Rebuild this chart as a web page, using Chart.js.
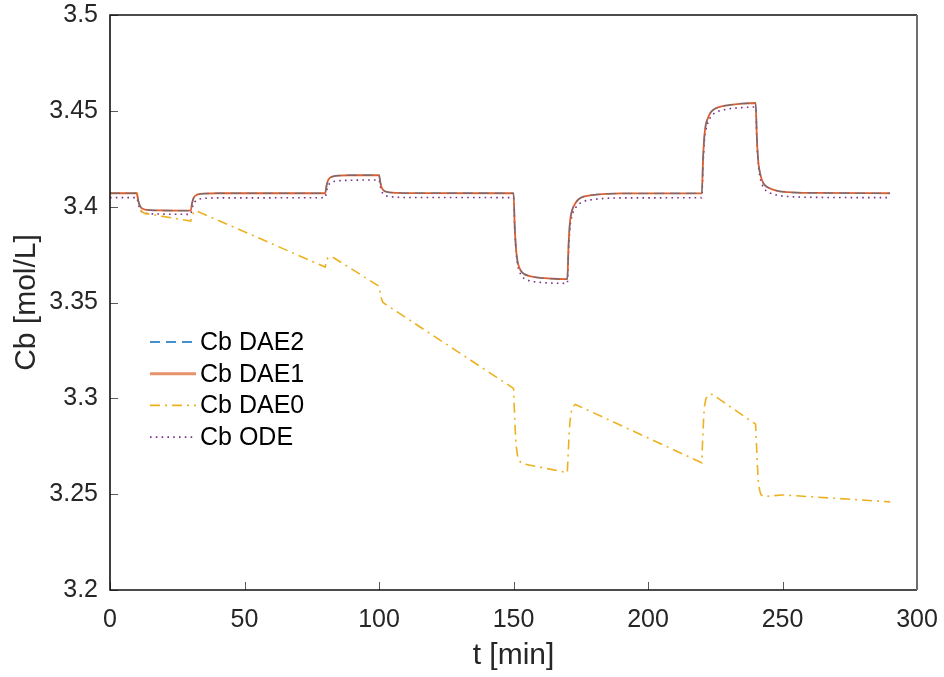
<!DOCTYPE html>
<html>
<head>
<meta charset="utf-8">
<script src="https://cdn.jsdelivr.net/npm/chart.js@4.4.0/dist/chart.umd.min.js"></script>
<style>
  html, body { margin: 0; padding: 0; background: #fff; }
  #cbContainer { width: 944px; height: 677px; }
</style>
</head>
<body>
<div id="cbContainer"><canvas id="cbChart"></canvas></div>
<script>
// time grid shared by DAE2, DAE1 and ODE runs (min), one line per setpoint step
const tStep = [
  0, 10,
  10.5, 11, 11.5, 12, 13, 15, 20, 30,
  30.5, 31, 31.5, 32, 33, 35, 40, 80,
  80.5, 81, 81.5, 82, 83, 85, 90, 100,
  100.5, 101, 101.5, 102, 103, 105, 110, 150,
  150.5, 151, 151.5, 152, 153, 154, 156, 160, 165, 170,
  170.5, 171, 171.5, 172, 173, 174, 176, 180, 185, 190, 220,
  220.5, 221, 221.5, 222, 223, 224, 226, 230, 235, 240,
  240.5, 241, 241.5, 242, 243, 245, 248, 252, 260, 290
]

const cbDAE2 = [
  3.4070, 3.4070,
  3.4032, 3.4008, 3.3996, 3.3990, 3.3985, 3.3982, 3.3980, 3.3979,
  3.4018, 3.4042, 3.4054, 3.4060, 3.4065, 3.4068, 3.4070, 3.4070,
  3.4109, 3.4135, 3.4147, 3.4153, 3.4158, 3.4162, 3.4164, 3.4165,
  3.4126, 3.4100, 3.4088, 3.4082, 3.4077, 3.4073, 3.4071, 3.4070,
  3.3880, 3.3770, 3.3715, 3.3688, 3.3660, 3.3648, 3.3638, 3.3628, 3.3624, 3.3622,
  3.3810, 3.3920, 3.3965, 3.3990, 3.4018, 3.4036, 3.4052, 3.4062, 3.4067, 3.4069, 3.4070,
  3.4260, 3.4375, 3.4428, 3.4452, 3.4485, 3.4502, 3.4518, 3.4530, 3.4538, 3.4541,
  3.4350, 3.4235, 3.4185, 3.4155, 3.4120, 3.4097, 3.4083, 3.4076, 3.4072, 3.4070
]

const cbDAE1 = [
  3.4070, 3.4070,
  3.4032, 3.4008, 3.3996, 3.3990, 3.3985, 3.3982, 3.3980, 3.3979,
  3.4018, 3.4042, 3.4054, 3.4060, 3.4065, 3.4068, 3.4070, 3.4070,
  3.4109, 3.4135, 3.4147, 3.4153, 3.4158, 3.4162, 3.4164, 3.4165,
  3.4126, 3.4100, 3.4088, 3.4082, 3.4077, 3.4073, 3.4071, 3.4070,
  3.3880, 3.3770, 3.3715, 3.3688, 3.3660, 3.3648, 3.3638, 3.3628, 3.3624, 3.3622,
  3.3810, 3.3920, 3.3965, 3.3990, 3.4018, 3.4036, 3.4052, 3.4062, 3.4067, 3.4069, 3.4070,
  3.4260, 3.4375, 3.4428, 3.4452, 3.4485, 3.4502, 3.4518, 3.4530, 3.4538, 3.4541,
  3.4350, 3.4235, 3.4185, 3.4155, 3.4120, 3.4097, 3.4083, 3.4076, 3.4072, 3.4070
]

const cbODE = [
  3.4047, 3.4047,
  3.4015, 3.3992, 3.3978, 3.3971, 3.3966, 3.3963, 3.3961, 3.3960,
  3.3990, 3.4013, 3.4025, 3.4032, 3.4039, 3.4043, 3.4046, 3.4047,
  3.4080, 3.4105, 3.4118, 3.4125, 3.4131, 3.4135, 3.4138, 3.4139,
  3.4105, 3.4080, 3.4068, 3.4061, 3.4055, 3.4051, 3.4048, 3.4047,
  3.3870, 3.3760, 3.3700, 3.3670, 3.3640, 3.3625, 3.3613, 3.3605, 3.3601, 3.3600,
  3.3780, 3.3890, 3.3940, 3.3965, 3.3993, 3.4010, 3.4027, 3.4038, 3.4044, 3.4046, 3.4047,
  3.4230, 3.4345, 3.4400, 3.4428, 3.4462, 3.4480, 3.4497, 3.4510, 3.4517, 3.4520,
  3.4335, 3.4220, 3.4165, 3.4133, 3.4098, 3.4074, 3.4060, 3.4053, 3.4049, 3.4047
]

// DAE0 drifts, so it gets its own time grid
const tDAE0 = [
  0, 10,
  10.5, 11, 11.5, 12, 13, 30,
  30.4, 31, 31.5, 32, 80,
  80.5, 81, 82, 83, 100,
  100.5, 101, 101.5, 102.5, 150,
  150.3, 150.7, 151, 151.5, 152, 153, 170,
  170.3, 170.7, 171, 171.5, 172, 173, 220,
  220.3, 220.7, 221, 221.5, 222, 223, 224, 240,
  240.3, 240.7, 241, 241.5, 242, 243, 245, 250, 290
]

const cbDAE0 = [
  3.4070, 3.4070,
  3.4030, 3.4005, 3.3985, 3.3972, 3.3965, 3.3925,
  3.3945, 3.3968, 3.3977, 3.3979, 3.3685,
  3.3718, 3.3733, 3.3740, 3.3735, 3.3585,
  3.3545, 3.3515, 3.3500, 3.3490, 3.3052,
  3.2950, 3.2820, 3.2750, 3.2700, 3.2678, 3.2660, 3.2612,
  3.2700, 3.2820, 3.2880, 3.2930, 3.2955, 3.2968, 3.2664,
  3.2780, 3.2900, 3.2960, 3.2995, 3.3012, 3.3022, 3.3020, 3.2865,
  3.2770, 3.2640, 3.2570, 3.2520, 3.2497, 3.2487, 3.2490, 3.2496, 3.2460
]

const seriesLabels = ['Cb DAE2', 'Cb DAE1', 'Cb DAE0', 'Cb ODE']

const xTickStep = 50
const yTickStep = 0.05

const inkColor = '#262626'
const fontFamily = "'Liberation Sans', Arial, Helvetica, sans-serif"

function toPoints(times, values) {
  return times.map((t, i) => ({x: t, y: values[i]}))
}

// pin the axes box: fixed scale size and no extra label overhang padding
function pinScale(scale, size) {
  if (scale.isHorizontal()) scale.height = size
  else scale.width = size
  scale.paddingTop = 0
  scale.paddingBottom = 0
  scale.paddingLeft = 0
  scale.paddingRight = 0
}

// axis frame plus MATLAB style inward tick marks
const frameAndTicks = {
  id: 'frameAndTicks',
  afterDraw(chart) {
    const {ctx, chartArea: {left, right, top, bottom}, scales: {x, y}} = chart
    ctx.save()
    ctx.lineWidth = 1
    ctx.strokeStyle = '#5a5a5a'
    ctx.beginPath()
    x.ticks.forEach(tick => {
      const px = Math.round(x.getPixelForValue(tick.value)) + 0.5
      ctx.moveTo(px, bottom)
      ctx.lineTo(px, bottom - 8)
    })
    y.ticks.forEach(tick => {
      const py = Math.round(y.getPixelForValue(tick.value)) + 0.5
      ctx.moveTo(left, py)
      ctx.lineTo(left + 8, py)
    })
    ctx.stroke()

    ctx.lineWidth = 1.6
    ctx.strokeStyle = '#111'
    ctx.beginPath()
    ctx.moveTo(right, top)
    ctx.lineTo(left, top)
    ctx.lineTo(left, bottom)
    ctx.lineTo(right, bottom)
    ctx.stroke()

    ctx.lineWidth = 2
    ctx.strokeStyle = '#6e6e6e'
    ctx.beginPath()
    ctx.moveTo(right, top)
    ctx.lineTo(right, bottom)
    ctx.stroke()
    ctx.restore()
  }
}

// legend without a box, sitting inside the axes
const insideLegend = {
  id: 'insideLegend',
  afterDatasetsDraw(chart) {
    const {ctx} = chart
    const x0 = 150
    const y0 = 342
    const rowGap = 31.7
    ctx.save()
    ctx.font = `25px ${fontFamily}`
    ctx.textBaseline = 'middle'
    ctx.fillStyle = '#000'
    chart.data.datasets.forEach((ds, i) => {
      const yy = y0 + i * rowGap
      ctx.beginPath()
      ctx.setLineDash(ds.borderDash || [])
      ctx.strokeStyle = ds.legendColor || ds.borderColor
      ctx.lineWidth = ds.legendWidth || ds.borderWidth
      ctx.moveTo(x0, yy)
      ctx.lineTo(x0 + 46, yy)
      ctx.stroke()
      ctx.setLineDash([])
      ctx.fillText(ds.label, x0 + 50, yy + 1)
    })
    ctx.restore()
  }
}

const ctx = document.getElementById('cbChart').getContext('2d')

new Chart(ctx, {
  type: 'line',
  data: {
    datasets: [
      {
        label: seriesLabels[0],
        data: toPoints(tStep, cbDAE2),
        borderColor: 'rgba(0, 114, 189, 0.42)',
        legendColor: '#0072BD',
        borderWidth: 1.6,
        borderDash: [10, 6],
        cubicInterpolationMode: 'monotone',
      },
      {
        label: seriesLabels[1],
        data: toPoints(tStep, cbDAE1),
        borderColor: '#DE6030',
        legendColor: '#E8926C',
        legendWidth: 3,
        borderWidth: 1.8,
        borderDash: [],
        cubicInterpolationMode: 'monotone',
      },
      {
        label: seriesLabels[2],
        data: toPoints(tDAE0, cbDAE0),
        borderColor: '#EDB120',
        borderWidth: 1.6,
        borderDash: [10, 5, 2, 5],
        tension: 0,
      },
      {
        label: seriesLabels[3],
        data: toPoints(tStep, cbODE),
        borderColor: '#7E2F8E',
        borderWidth: 1.6,
        borderDash: [1.6, 4.2],
        cubicInterpolationMode: 'monotone',
      },
    ],
  },
  options: {
    responsive: true,
    maintainAspectRatio: false,
    animation: false,
    elements: {
      point: {radius: 0},
      line: {fill: false},
    },
    layout: {
      padding: {left: 0, right: 27, top: 15, bottom: 0},
    },
    plugins: {
      legend: {display: false},
      tooltip: {enabled: false},
    },
    scales: {
      x: {
        type: 'linear',
        min: 0,
        max: 300,
        afterFit: scale => pinScale(scale, 87),
        grid: {display: false, drawTicks: false},
        border: {display: false},
        ticks: {
          stepSize: xTickStep,
          padding: 15,
          color: inkColor,
          font: {family: fontFamily, size: 25},
          maxRotation: 0,
        },
        title: {
          display: true,
          text: 't [min]',
          color: inkColor,
          font: {family: fontFamily, size: 30},
          padding: {top: 0, bottom: 3},
        },
      },
      y: {
        min: 3.2,
        max: 3.5,
        afterFit: scale => pinScale(scale, 110),
        grid: {display: false, drawTicks: false},
        border: {display: false},
        ticks: {
          stepSize: yTickStep,
          padding: 12,
          color: inkColor,
          font: {family: fontFamily, size: 25},
          callback: value => String(Number(value.toFixed(2))),
        },
        title: {
          display: true,
          text: 'Cb [mol/L]',
          color: inkColor,
          font: {family: fontFamily, size: 30},
          padding: {top: 9, bottom: 0},
        },
      },
    },
  },
  plugins: [frameAndTicks, insideLegend],
})
</script>
</body>
</html>
